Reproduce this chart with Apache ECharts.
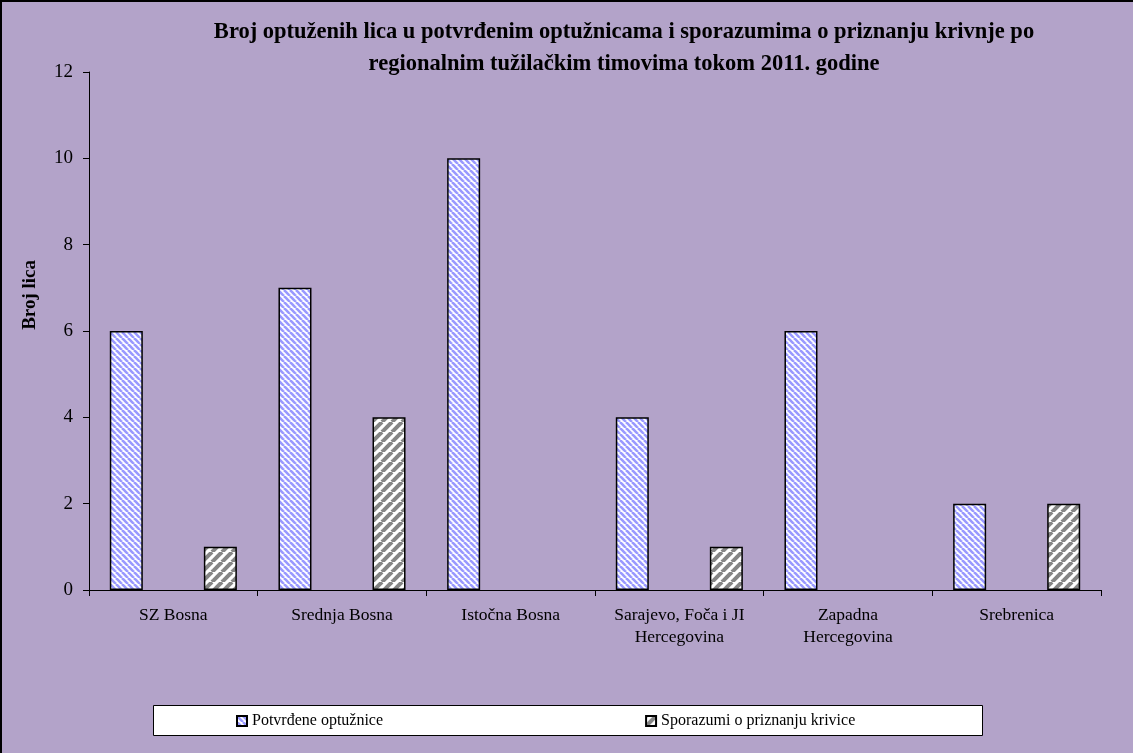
<!DOCTYPE html>
<html>
<head>
<meta charset="utf-8">
<script src="https://cdn.jsdelivr.net/npm/echarts@6/dist/echarts.min.js"></script>
<style>
  html, body { margin: 0; padding: 0; }
  #chart {
    width: 1133px;
    height: 753px;
    background: #b3a3c9;
    box-sizing: border-box;
    border-top: 2px solid #000;
    border-left: 2px solid #000;
  }
</style>
</head>
<body>
<div id="chart"></div>
<script>
let categories = ['SZ Bosna', 'Srednja Bosna', 'Istočna Bosna', 'Sarajevo, Foča i JI\nHercegovina', 'Zapadna\nHercegovina', 'Srebrenica']
let potvrdjene = [6, 7, 10, 4, 6, 2]
let sporazumi = [1, 4, 0, 1, 0, 2]
let yTicks = [0, 2, 4, 6, 8, 10, 12]

// diagonal hatch tile for the bars
let hatch = (bg, fg, n, w, down) => {
    let c = document.createElement('canvas')
    c.width = n
    c.height = n
    let ctx = c.getContext('2d')
    ctx.fillStyle = bg
    ctx.fillRect(0, 0, n, n)
    ctx.strokeStyle = fg
    ctx.lineWidth = w
    for (let k of [-n, 0, n]) {
        ctx.beginPath()
        if (down) {
            ctx.moveTo(k, 0)
            ctx.lineTo(k + n, n)
        } else {
            ctx.moveTo(k, n)
            ctx.lineTo(k + n, 0)
        }
        ctx.stroke()
    }
    return { image: c, repeat: 'repeat' }
}

// zero values draw no bar at all in the original
let noZero = (arr) => arr.map(v => v === 0 ? '-' : v)

let serif = '"Liberation Serif", "DejaVu Serif", serif'
let mychart = echarts.init(document.getElementById('chart'))

let options = {
    animation: false,
    title: {
        text: 'Broj optuženih lica u potvrđenim optužnicama i sporazumima o priznanju krivnje po\nregionalnim tužilačkim timovima tokom 2011. godine',
        left: 617,
        textAlign: 'center',
        top: 9,
        textStyle: {
            fontFamily: serif,
            fontWeight: 'bold',
            fontSize: 22.5,
            lineHeight: 32,
            color: '#000'
        }
    },
    grid: {
        left: 87,
        right: 32,
        top: 70,
        bottom: 163
    },
    legend: {
        left: 234,
        top: 711,
        padding: 0,
        itemGap: 262,
        itemWidth: 10,
        itemHeight: 10,
        icon: 'rect',
        data: ['Potvrđene optužnice', 'Sporazumi o priznanju krivice'],
        textStyle: {
            fontFamily: serif,
            fontSize: 16,
            color: '#000',
            padding: [0, 0, 0, 0]
        }
    },
    graphic: [
        {
            type: 'rect',
            left: 151,
            top: 703,
            z: -1,
            shape: { width: 829, height: 30 },
            style: { fill: '#fff', stroke: '#000', lineWidth: 1 }
        },
        {
            type: 'text',
            left: 19,
            top: 258,
            rotation: Math.PI / 2,
            style: {
                text: 'Broj lica',
                fontFamily: serif,
                fontWeight: 'bold',
                fontSize: 19,
                fill: '#000'
            }
        }
    ],
    xAxis: {
        type: 'category',
        data: categories,
        axisLine: { lineStyle: { color: '#000', width: 1 } },
        axisTick: { show: true, length: 6, lineStyle: { color: '#000' } },
        axisLabel: {
            fontFamily: serif,
            fontSize: 17.5,
            color: '#000',
            margin: 14,
            lineHeight: 22,
            interval: 0
        }
    },
    yAxis: {
        type: 'value',
        min: yTicks[0],
        max: yTicks[yTicks.length - 1],
        interval: 2,
        splitLine: { show: false },
        axisLine: { show: true, lineStyle: { color: '#000', width: 1 } },
        axisTick: { show: true, length: 6, lineStyle: { color: '#000' } },
        axisLabel: {
            fontFamily: serif,
            fontSize: 19,
            color: '#000',
            margin: 16
        }
    },
    series: [
        {
            name: 'Potvrđene optužnice',
            type: 'bar',
            data: noZero(potvrdjene),
            barWidth: 33,
            barGap: '185%',
            itemStyle: {
                color: hatch('#ffffff', '#9999ff', 6, 2.6, true),
                borderColor: '#000',
                borderWidth: 1.5
            }
        },
        {
            name: 'Sporazumi o priznanju krivice',
            type: 'bar',
            data: noZero(sporazumi),
            barWidth: 33,
            itemStyle: {
                color: hatch('#ffffff', '#858585', 10, 4, false),
                borderColor: '#000',
                borderWidth: 1.5
            }
        }
    ]
}
mychart.setOption(options)
</script>
</body>
</html>
